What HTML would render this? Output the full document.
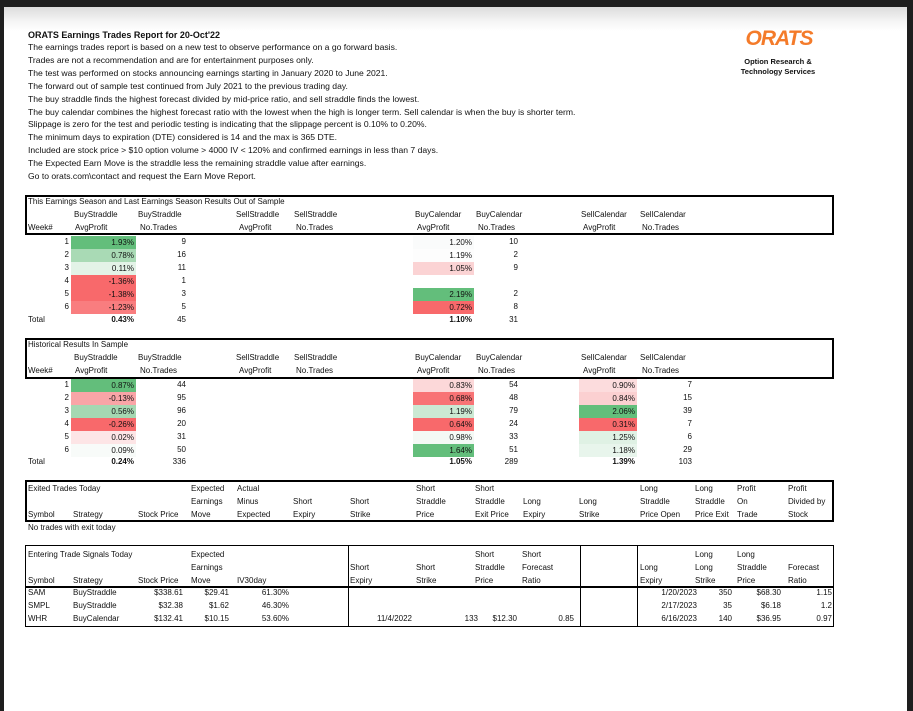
<!DOCTYPE html>
<html><head><meta charset="utf-8"><style>
html,body{margin:0;padding:0;background:#1e1e1e;}
#page{position:relative;width:913px;height:711px;overflow:hidden;background:#1e1e1e;font-family:"Liberation Sans",sans-serif;color:#111;}
#sheet{position:absolute;left:4px;top:7px;width:903px;height:704px;background:linear-gradient(#dcdcdc 0px,#f4f4f4 14px,#fff 24px,#fff 100%);}
.t{position:absolute;font-size:8px;line-height:12px;white-space:nowrap;}
.i{font-size:8.6px;}
.b{font-weight:bold;}
.box{position:absolute;box-sizing:border-box;}
.cell{position:absolute;box-sizing:border-box;height:13px;font-size:8px;line-height:13px;text-align:right;padding-right:2px;}
</style></head><body>
<div id="page">
<div id="sheet"></div>
<div class="t b i" style="left:28px;top:29px;font-size:9px">ORATS Earnings Trades Report for 20-Oct'22</div>
<div style="position:absolute;left:740px;top:29px;width:78px;height:20px;color:#f47b2a;font:italic bold 21px/20px 'Liberation Sans',sans-serif;letter-spacing:-1px;text-align:center">ORATS</div>
<div class="t b" style="left:728px;top:57px;width:100px;text-align:center;font-size:7.5px;line-height:10px">Option Research &amp;<br>Technology Services</div>

<div class="box" style="left:25px;top:195px;width:809px;height:40px;border:2px solid #000"></div>
<div class="box" style="left:25px;top:338px;width:809px;height:41px;border:2px solid #000"></div>
<div class="box" style="left:25px;top:480px;width:809px;height:42px;border:2px solid #000;border-bottom-width:2px"></div>
<div class="box" style="left:25px;top:545px;width:809px;height:82px;border:1px solid #000"></div>
<div class="box" style="left:25px;top:586px;width:809px;height:2px;background:#000"></div>
<div class="box" style="left:348px;top:545px;width:1px;height:82px;background:#000"></div>
<div class="box" style="left:580px;top:545px;width:1px;height:82px;background:#000"></div>
<div class="box" style="left:637px;top:545px;width:1px;height:82px;background:#000"></div>
</div>
<script>
const page = document.getElementById('page');
const introLines = [
"The earnings trades report is based on a new test to observe performance on a go forward basis.",
"Trades are not a recommendation and are for entertainment purposes only.",
"The test was performed on stocks announcing earnings starting in January 2020 to June 2021.",
"The forward out of sample test continued from July 2021 to the previous trading day.",
"The buy straddle finds the highest forecast divided by mid-price ratio, and sell straddle finds the lowest.",
"The buy calendar combines the highest forecast ratio with the lowest when the high is longer term. Sell calendar is when the buy is shorter term.",
"Slippage is zero for the test and periodic testing is indicating that the slippage percent is 0.10% to 0.20%.",
"The minimum days to expiration (DTE) considered is 14 and the max is 365 DTE.",
"Included are stock price > $10 option volume > 4000 IV < 120% and confirmed earnings in less than 7 days.",
"The Expected Earn Move is the straddle less the remaining straddle value after earnings.",
"Go to orats.com\\contact and request the Earn Move Report."
];
// table data
const weeks = [1,2,3,4,5,6];
const oosBsProfit = ['1.93%','0.78%','0.11%','-1.36%','-1.38%','-1.23%'];
const oosBsColor = ['#63be7b','#a9dab5','#e3f3e7','#f8696b','#f8696b','#f97d7f'];
const oosBsTrades = ['9','16','11','1','3','5'];
const oosBcProfit = ['1.20%','1.19%','1.05%','','2.19%','0.72%'];
const oosBcColor = ['#fafbfb','#fdfdfd','#fbd3d4','','#63be7b','#f8696b'];
const oosBcTrades = ['10','2','9','','2','8'];
const histBsProfit = ['0.87%','-0.13%','0.56%','-0.26%','0.02%','0.09%'];
const histBsColor = ['#63be7b','#f9a5a7','#a5d8b2','#f8696b','#fde5e6','#f8fbf9'];
const histBsTrades = ['44','95','96','20','31','50'];
const histBcProfit = ['0.83%','0.68%','1.19%','0.64%','0.98%','1.64%'];
const histBcColor = ['#fcd8d9','#f87375','#cbe9d3','#f8696b','#f4f9f5','#63be7b'];
const histBcTrades = ['54','48','79','24','33','51'];
const histScProfit = ['0.90%','0.84%','2.06%','0.31%','1.25%','1.18%'];
const histScColor = ['#fcdcdd','#fbd0d1','#63be7b','#f8696b','#dff1e4','#e8f5ec'];
const histScTrades = ['7','15','39','7','6','29'];
const entSymbols = ['SAM','SMPL','WHR'];
const entStrategy = ['BuyStraddle','BuyStraddle','BuyCalendar'];
const entPrice = ['$338.61','$32.38','$132.41'];
const entMove = ['$29.41','$1.62','$10.15'];
const entIv = ['61.30%','46.30%','53.60%'];
const entShortExpiry = ['','','11/4/2022'];
const entShortStrike = ['','','133'];
const entShortPrice = ['','','$12.30'];
const entShortRatio = ['','','0.85'];
const entLongExpiry = ['1/20/2023','2/17/2023','6/16/2023'];
const entLongStrike = ['350','35','140'];
const entLongPrice = ['$68.30','$6.18','$36.95'];
const entLongRatio = ['1.15','1.2','0.97'];

function T(x, y, s, name, right, cls) {
  const d = document.createElement('div');
  d.className = 't' + (cls ? ' ' + cls : '');
  d.textContent = s;
  d.style.top = (y - 6) + 'px';
  if (right) d.style.right = (913 - x) + 'px'; else d.style.left = x + 'px';
  
  
  page.appendChild(d);
  return d;
}
function C(x, w, y, s, bg, name) {
  const d = document.createElement('div');
  d.className = 'cell';
  d.textContent = s;
  d.style.left = x + 'px';
  d.style.width = w + 'px';
  d.style.top = (y - 6.5) + 'px';
  if (bg) d.style.background = bg;
  
  
  page.appendChild(d);
}
introLines.forEach((s, i) => {
  const d = T(28, 47 + i * 12.9, s, 'intro-line', false, 'i');
});

function perfHeader(y0, title, tname) {
  T(28, y0, title, tname);
  const h1 = y0 + 13, h2 = y0 + 26;
  T(28, h2, 'Week#', 'week-header');
  [[74,'BuyStraddle',75,'AvgProfit'],[138,'BuyStraddle',140,'No.Trades'],[236,'SellStraddle',239,'AvgProfit'],[294,'SellStraddle',296,'No.Trades'],
   [415,'BuyCalendar',417,'AvgProfit'],[476,'BuyCalendar',478,'No.Trades'],[581,'SellCalendar',583,'AvgProfit'],[640,'SellCalendar',642,'No.Trades']]
   .forEach(c => { T(c[0], h1, c[1], 'column-header'); T(c[2], h2, c[3], 'column-header'); });
}
perfHeader(202, 'This Earnings Season and Last Earnings Season Results Out of Sample', 'oos-table-title');
perfHeader(345, 'Historical Results In Sample', 'hist-table-title');

weeks.forEach((w, i) => {
  const y = 242 + i * 13;
  T(69, y, String(w), 'oos-week-number', true);
  C(71, 65, y, oosBsProfit[i], oosBsColor[i], 'oos-buystraddle-profit');
  T(186, y, oosBsTrades[i], 'oos-buystraddle-trades', true);
  if (oosBcProfit[i]) C(413, 61, y, oosBcProfit[i], oosBcColor[i], 'oos-buycalendar-profit');
  T(518, y, oosBcTrades[i], 'oos-buycalendar-trades', true);
});
T(28, 320, 'Total', 'oos-total-label');
T(134, 320, '0.43%', 'oos-buystraddle-total', true, 'b');
T(186, 320, '45', 'oos-buystraddle-trades-total', true);
T(472, 320, '1.10%', 'oos-buycalendar-total', true, 'b');
T(518, 320, '31', 'oos-buycalendar-trades-total', true);

weeks.forEach((w, i) => {
  const y = 385 + i * 13;
  T(69, y, String(w), 'hist-week-number', true);
  C(71, 65, y, histBsProfit[i], histBsColor[i], 'hist-buystraddle-profit');
  T(186, y, histBsTrades[i], 'hist-buystraddle-trades', true);
  C(413, 61, y, histBcProfit[i], histBcColor[i], 'hist-buycalendar-profit');
  T(518, y, histBcTrades[i], 'hist-buycalendar-trades', true);
  C(579, 58, y, histScProfit[i], histScColor[i], 'hist-sellcalendar-profit');
  T(692, y, histScTrades[i], 'hist-sellcalendar-trades', true);
});
T(28, 462, 'Total', 'hist-total-label');
T(134, 462, '0.24%', 'hist-buystraddle-total', true, 'b');
T(186, 462, '336', 'hist-buystraddle-trades-total', true);
T(472, 462, '1.05%', 'hist-buycalendar-total', true, 'b');
T(518, 462, '289', 'hist-buycalendar-trades-total', true);
T(635, 462, '1.39%', 'hist-sellcalendar-total', true, 'b');
T(692, 462, '103', 'hist-sellcalendar-trades-total', true);

// Exited table header
const ex = [[28,['Exited Trades Today','','Symbol']],[73,['','','Strategy']],[138,['','','Stock Price']],[191,['Expected','Earnings','Move']],
 [237,['Actual','Minus','Expected']],[293,['','Short','Expiry']],[350,['','Short','Strike']],[416,['Short','Straddle','Price']],
 [475,['Short','Straddle','Exit Price']],[523,['','Long','Expiry']],[579,['','Long','Strike']],[640,['Long','Straddle','Price Open']],
 [695,['Long','Straddle','Price Exit']],[737,['Profit','On','Trade']],[788,['Profit','Divided by','Stock']]];
ex.forEach(c => c[1].forEach((s, r) => { if (s) T(c[0], 489 + r * 13, s, 'exited-column-header'); }));
T(28, 528, 'No trades with exit today', 'no-exits-note');

// Entering table header
const en = [[28,['Entering Trade Signals Today','','Symbol']],[73,['','','Strategy']],[138,['','','Stock Price']],[191,['Expected','Earnings','Move']],
 [237,['','','IV30day']],[350,['','Short','Expiry']],[416,['','Short','Strike']],[475,['Short','Straddle','Price']],[522,['Short','Forecast','Ratio']],
 [640,['','Long','Expiry']],[695,['Long','Long','Strike']],[737,['Long','Straddle','Price']],[788,['','Forecast','Ratio']]];
en.forEach(c => c[1].forEach((s, r) => { if (s) T(c[0], 555 + r * 13, s, 'entering-column-header'); }));
entSymbols.forEach((s, i) => {
  const y = 593 + i * 13;
  T(28, y, s, 'entering-symbol');
  T(73, y, entStrategy[i], 'entering-strategy');
  T(183, y, entPrice[i], 'entering-stock-price', true);
  T(229, y, entMove[i], 'entering-expected-move', true);
  T(289, y, entIv[i], 'entering-iv30', true);
  if (entShortExpiry[i]) T(412, y, entShortExpiry[i], 'entering-short-expiry', true);
  if (entShortStrike[i]) T(478, y, entShortStrike[i], 'entering-short-strike', true);
  if (entShortPrice[i]) T(517, y, entShortPrice[i], 'entering-short-price', true);
  if (entShortRatio[i]) T(574, y, entShortRatio[i], 'entering-short-ratio', true);
  T(697, y, entLongExpiry[i], 'entering-long-expiry', true);
  T(732, y, entLongStrike[i], 'entering-long-strike', true);
  T(781, y, entLongPrice[i], 'entering-long-price', true);
  T(832, y, entLongRatio[i], 'entering-long-ratio', true);
});
</script>
</body></html>
